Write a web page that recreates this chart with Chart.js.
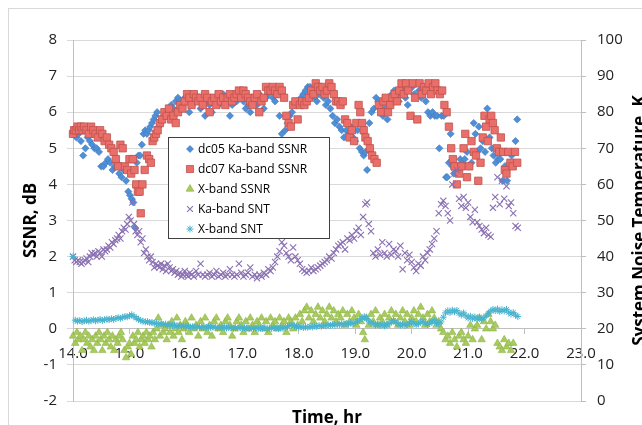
<!DOCTYPE html>
<html>
<head>
<meta charset="utf-8">
<script src="https://cdn.jsdelivr.net/npm/chart.js@4.4.1/dist/chart.umd.min.js"></script>
<style>
  html, body { margin: 0; padding: 0; background: #fff; }
  #wrap { width: 642px; height: 425px; }
</style>
</head>
<body>
<div id="wrap"><canvas id="canvas" width="642" height="425"></canvas></div>
<script>
// series names (legend order)
const seriesNames = ['dc05 Ka-band SSNR', 'dc07 Ka-band SSNR', 'X-band SSNR', 'Ka-band SNT', 'X-band SNT'];

// dc05 Ka-band SSNR, dB
const dc05Hours = [
  14.00,14.03,14.06,14.10,14.14,14.18,14.22,14.26,14.30,14.34,
  14.38,14.42,14.46,14.50,14.54,14.58,14.62,14.66,14.70,14.74,
  14.78,14.82,14.86,14.90,14.94,14.98,15.01,15.04,15.07,15.10,
  15.13,15.16,15.19,15.22,15.25,15.28,15.31,15.34,15.37,15.40,
  15.43,15.46,15.49,15.52,15.55,15.58,15.62,15.66,15.70,15.74,
  15.78,15.82,15.86,15.90,15.94,15.98,16.02,16.06,16.10,16.14,
  16.18,16.22,16.26,16.30,16.34,16.38,16.42,16.46,16.50,16.54,
  16.58,16.62,16.66,16.70,16.74,16.78,16.82,16.86,16.90,16.94,
  16.98,17.02,17.06,17.10,17.14,17.18,17.22,17.26,17.30,17.34,
  17.38,17.42,17.46,17.50,17.54,17.58,17.62,17.66,17.70,17.73,
  17.76,17.80,17.84,17.88,17.92,17.96,18.00,18.04,18.08,18.12,
  18.16,18.20,18.24,18.28,18.32,18.36,18.40,18.44,18.48,18.52,
  18.56,18.60,18.64,18.68,18.72,18.76,18.80,18.84,18.88,18.92,
  18.96,19.00,19.04,19.08,19.12,19.15,19.18,19.21,19.25,19.29,
  19.33,19.37,19.41,19.45,19.49,19.53,19.57,19.61,19.65,19.69,
  19.73,19.77,19.81,19.85,19.89,19.93,19.97,20.01,20.05,20.09,
  20.13,20.17,20.21,20.25,20.29,20.33,20.37,20.41,20.45,20.49,
  20.53,20.57,20.61,20.63,20.66,20.69,20.72,20.75,20.78,20.82,
  20.86,20.90,20.94,20.98,21.02,21.06,21.10,21.13,21.16,21.19,
  21.22,21.26,21.30,21.34,21.38,21.42,21.45,21.49,21.53,21.57,
  21.61,21.65,21.69,21.73,21.77,21.81,21.84,21.87
];
const dc05Ssnr = [
  5.4,5.5,5.3,5.4,5.2,4.8,5.0,5.3,5.2,5.1,
  5.0,5.0,4.9,4.5,4.5,4.6,4.7,4.6,4.4,4.5,
  4.6,4.3,4.2,4.4,4.1,3.8,3.7,3.6,3.5,2.8,
  4.6,4.8,4.8,5.1,5.4,5.5,5.4,5.5,5.6,5.7,
  5.8,5.9,6.0,5.6,5.7,5.8,5.9,6.0,6.1,6.2,
  6.1,6.3,6.4,6.3,6.2,6.4,6.3,6.0,6.2,6.3,
  6.4,6.3,6.1,6.2,5.9,6.3,6.2,6.0,6.3,6.4,
  6.2,6.3,6.5,6.4,6.3,5.9,6.2,6.4,6.3,6.5,
  6.4,6.3,6.1,6.2,6.0,6.3,6.4,6.2,6.5,6.3,
  6.1,6.4,6.5,6.6,6.4,6.3,6.5,5.9,5.4,5.2,
  5.5,5.7,5.9,6.0,6.2,6.3,6.2,6.4,6.5,6.6,
  6.7,6.7,6.5,6.4,6.3,6.5,6.6,6.4,6.2,6.3,
  6.1,5.9,5.7,5.8,5.6,5.5,5.3,5.5,5.4,5.6,
  5.3,5.2,5.5,5.0,4.9,4.8,4.9,4.4,5.7,6.0,
  6.1,6.4,6.3,6.2,5.9,6.1,5.8,6.3,6.5,6.6,
  6.4,6.3,6.5,6.6,6.4,6.2,6.8,6.7,6.5,6.8,
  6.6,6.4,6.7,6.3,6.0,5.9,6.0,5.9,5.9,5.0,
  5.9,5.9,4.2,4.2,4.6,5.4,4.5,4.3,4.0,4.4,
  4.7,4.6,4.7,4.9,4.5,4.6,5.7,5.4,4.9,5.6,
  5.0,5.2,4.9,6.1,5.3,5.0,4.8,4.6,4.7,4.7,
  4.1,4.5,4.1,4.6,4.8,4.9,5.2,5.8
];

// dc07 Ka-band SSNR, dB
const dc07Hours = [
  14.00,14.02,14.05,14.08,14.11,14.14,14.17,14.20,14.24,14.28,
  14.32,14.36,14.40,14.44,14.48,14.52,14.56,14.60,14.64,14.68,
  14.72,14.76,14.80,14.84,14.88,14.92,14.96,15.00,15.03,15.06,
  15.09,15.12,15.15,15.18,15.20,15.23,15.27,15.31,15.35,15.38,
  15.41,15.44,15.47,15.50,15.54,15.58,15.62,15.66,15.70,15.74,
  15.78,15.82,15.86,15.90,15.94,15.98,16.02,16.06,16.10,16.14,
  16.18,16.22,16.26,16.30,16.34,16.38,16.42,16.46,16.50,16.54,
  16.58,16.62,16.66,16.70,16.74,16.78,16.82,16.86,16.90,16.94,
  16.98,17.02,17.06,17.10,17.14,17.18,17.22,17.26,17.30,17.34,
  17.38,17.42,17.46,17.50,17.54,17.58,17.62,17.66,17.70,17.74,
  17.78,17.82,17.86,17.90,17.94,17.98,18.02,18.06,18.10,18.14,
  18.18,18.22,18.26,18.30,18.34,18.38,18.42,18.46,18.50,18.54,
  18.58,18.62,18.66,18.70,18.74,18.78,18.82,18.86,18.90,18.94,
  18.98,19.02,19.06,19.09,19.12,19.15,19.18,19.22,19.26,19.30,
  19.34,19.38,19.42,19.46,19.50,19.54,19.58,19.62,19.66,19.70,
  19.74,19.78,19.82,19.86,19.90,19.94,19.98,20.02,20.06,20.10,
  20.14,20.18,20.22,20.26,20.30,20.34,20.38,20.42,20.46,20.50,
  20.54,20.58,20.62,20.66,20.70,20.73,20.76,20.80,20.84,20.88,
  20.92,20.95,20.98,21.02,21.06,21.10,21.14,21.18,21.22,21.26,
  21.29,21.32,21.35,21.38,21.41,21.44,21.47,21.51,21.55,21.58,
  21.62,21.65,21.68,21.71,21.75,21.79,21.83,21.87
];
const dc07Ssnr = [
  5.4,5.5,5.5,5.6,5.5,5.6,5.5,5.6,5.5,5.4,
  5.6,5.5,5.4,5.3,5.5,5.4,5.2,5.3,5.1,5.0,
  4.9,4.7,4.5,5.1,5.0,4.5,4.4,4.7,4.3,4.7,
  4.4,4.0,3.8,3.8,3.2,4.0,4.4,4.8,4.7,4.6,
  5.2,5.3,5.4,5.5,5.7,5.8,6.0,5.9,6.1,5.8,
  5.9,5.7,6.0,6.2,6.1,6.3,6.5,6.4,6.2,6.5,
  6.4,6.3,6.4,6.2,6.5,6.4,6.0,6.3,6.4,6.2,
  6.5,6.3,6.4,6.2,6.4,6.5,6.3,6.4,6.5,6.6,
  6.4,6.6,6.5,6.4,6.3,6.2,6.4,6.5,6.0,6.3,
  6.4,6.7,6.6,6.6,6.7,6.6,6.5,6.7,6.6,6.4,
  5.9,5.7,5.6,6.2,6.3,5.8,6.2,6.3,6.2,6.3,
  6.4,6.6,6.5,6.8,6.7,6.6,6.7,6.5,6.6,6.8,
  6.7,6.5,6.3,6.3,6.2,6.3,5.8,5.7,5.3,5.5,
  5.2,5.7,6.2,6.0,5.7,5.5,5.3,5.2,5.0,4.8,
  4.7,4.6,6.2,6.0,6.3,6.4,6.0,6.2,6.4,6.5,
  6.3,6.6,6.8,6.5,6.8,6.6,5.9,6.8,6.4,5.8,
  6.8,6.5,6.7,6.6,6.8,6.5,6.7,6.8,6.6,6.5,
  6.6,6.2,6.0,5.6,5.0,4.7,4.5,4.0,4.3,4.5,
  5.0,5.4,4.2,4.5,5.2,4.9,4.8,4.1,4.6,5.3,
  5.9,5.6,5.2,5.8,5.9,5.7,5.5,5.0,4.9,5.3,
  4.9,4.4,4.3,4.9,4.6,4.5,4.9,4.6
];

// X-band SSNR, dB
const xSsnrHours = [
  14.00,14.04,14.07,14.10,14.13,14.16,14.19,14.22,14.25,14.28,
  14.31,14.34,14.37,14.40,14.43,14.46,14.49,14.52,14.55,14.58,
  14.61,14.64,14.67,14.70,14.73,14.76,14.79,14.82,14.85,14.88,
  14.91,14.94,14.97,15.00,15.03,15.06,15.09,15.12,15.15,15.18,
  15.21,15.24,15.27,15.30,15.33,15.36,15.39,15.42,15.45,15.48,
  15.51,15.54,15.57,15.60,15.63,15.66,15.69,15.72,15.75,15.78,
  15.81,15.84,15.87,15.90,15.93,15.96,15.99,16.02,16.06,16.10,
  16.14,16.18,16.22,16.26,16.30,16.34,16.38,16.42,16.46,16.50,
  16.54,16.58,16.62,16.66,16.70,16.74,16.78,16.82,16.86,16.90,
  16.94,16.98,17.02,17.06,17.10,17.14,17.18,17.22,17.26,17.30,
  17.34,17.38,17.42,17.46,17.50,17.54,17.58,17.62,17.66,17.70,
  17.74,17.78,17.82,17.86,17.90,17.94,17.98,18.02,18.06,18.10,
  18.14,18.18,18.22,18.26,18.30,18.34,18.38,18.42,18.46,18.50,
  18.54,18.58,18.62,18.66,18.70,18.74,18.78,18.82,18.86,18.90,
  18.94,18.98,19.02,19.06,19.10,19.14,19.17,19.20,19.24,19.28,
  19.32,19.36,19.40,19.44,19.48,19.52,19.56,19.60,19.64,19.68,
  19.72,19.76,19.80,19.84,19.88,19.92,19.96,20.00,20.04,20.08,
  20.12,20.16,20.20,20.24,20.28,20.32,20.36,20.40,20.44,20.48,
  20.52,20.56,20.60,20.64,20.68,20.72,20.76,20.80,20.84,20.88,
  20.92,20.96,21.00,21.04,21.08,21.12,21.16,21.20,21.24,21.28,
  21.32,21.36,21.40,21.44,21.48,21.52,21.56,21.60,21.64,21.68,
  21.72,21.76,21.80
];
const xSsnr = [
  -0.2,-0.4,-0.1,-0.3,-0.2,-0.6,-0.3,-0.1,-0.4,-0.2,
  -0.5,-0.3,-0.6,-0.2,-0.4,-0.1,-0.3,-0.6,-0.2,-0.4,
  -0.1,-0.3,-0.5,-0.2,-0.6,-0.3,-0.4,-0.2,-0.1,-0.3,
  -0.6,-0.8,-0.5,-0.4,-0.7,-0.2,-0.4,-0.3,-0.1,-0.5,
  -0.3,-0.2,-0.4,-0.1,-0.3,-0.2,-0.5,-0.1,-0.3,0.0,
  0.3,-0.2,0.1,-0.1,0.0,-0.3,0.1,-0.1,0.2,-0.2,
  0.0,0.3,-0.1,0.1,-0.3,0.0,0.2,0.1,-0.1,0.3,
  0.0,0.1,-0.2,0.2,0.0,0.3,-0.1,0.1,-0.2,0.2,
  0.3,0.0,0.1,-0.1,0.2,0.3,0.1,-0.2,0.0,0.2,
  0.3,0.1,-0.1,0.2,0.0,0.3,0.1,-0.1,0.2,0.1,
  0.3,0.0,0.2,-0.1,0.3,0.1,0.2,0.0,0.3,0.1,
  0.2,-0.1,0.3,0.2,0.0,0.3,0.1,0.4,0.2,0.5,
  0.6,0.3,0.5,0.2,0.4,0.6,0.3,0.5,0.2,0.4,
  0.6,0.3,0.5,0.2,0.4,0.3,0.5,0.1,0.4,0.2,
  0.5,0.3,0.1,0.4,0.2,-0.1,-0.3,0.3,0.1,0.4,
  0.2,0.5,0.1,0.3,0.2,0.4,0.1,0.3,0.5,0.2,
  0.4,0.1,0.3,0.5,0.2,0.4,0.1,0.3,0.5,0.2,
  0.4,0.6,0.3,0.1,0.4,0.2,0.5,0.3,0.1,0.2,
  0.0,-0.1,-0.3,-0.2,-0.4,-0.1,-0.3,-0.5,-0.2,-0.1,
  -0.3,-0.4,-0.2,0.1,-0.3,0.0,0.1,0.3,-0.3,0.2,
  0.0,0.4,0.2,0.0,0.1,-0.4,-0.5,-0.6,-0.3,-0.5,
  -0.4,-0.6,-0.4
];

// Ka-band system noise temperature, K
const kaSntHours = [
  14.00,14.03,14.06,14.09,14.12,14.15,14.18,14.21,14.24,14.27,
  14.30,14.33,14.36,14.39,14.42,14.45,14.48,14.51,14.54,14.57,
  14.60,14.63,14.66,14.69,14.72,14.75,14.78,14.81,14.84,14.87,
  14.90,14.93,14.96,14.99,15.02,15.05,15.08,15.11,15.14,15.17,
  15.20,15.23,15.26,15.29,15.32,15.35,15.38,15.41,15.44,15.47,
  15.50,15.53,15.56,15.59,15.62,15.65,15.68,15.71,15.74,15.77,
  15.80,15.83,15.86,15.89,15.92,15.95,15.98,16.01,16.04,16.07,
  16.10,16.14,16.18,16.22,16.26,16.30,16.34,16.38,16.42,16.46,
  16.50,16.54,16.58,16.62,16.66,16.70,16.74,16.78,16.82,16.86,
  16.90,16.94,16.98,17.02,17.06,17.10,17.14,17.18,17.22,17.26,
  17.30,17.34,17.38,17.42,17.46,17.50,17.54,17.58,17.62,17.66,
  17.70,17.74,17.78,17.82,17.86,17.90,17.94,17.98,18.02,18.06,
  18.10,18.14,18.18,18.22,18.26,18.30,18.34,18.38,18.42,18.46,
  18.50,18.54,18.58,18.62,18.66,18.70,18.74,18.78,18.82,18.86,
  18.90,18.94,18.98,19.02,19.06,19.10,19.14,19.18,19.21,19.24,
  19.28,19.32,19.36,19.40,19.44,19.48,19.52,19.56,19.60,19.64,
  19.68,19.72,19.76,19.80,19.84,19.88,19.92,19.96,20.00,20.04,
  20.08,20.12,20.16,20.20,20.24,20.28,20.32,20.36,20.40,20.44,
  20.48,20.52,20.56,20.60,20.64,20.68,20.72,20.76,20.80,20.84,
  20.88,20.92,20.96,21.00,21.04,21.08,21.12,21.16,21.20,21.24,
  21.28,21.32,21.36,21.40,21.44,21.48,21.52,21.56,21.60,21.64,
  21.68,21.72,21.76,21.80,21.84,21.88
];
const kaSnt = [
  40,39,38.5,39,38.5,38,38.5,39,39.5,38.5,
  40,41,40.5,41,40,41.5,41,40,42,41.5,
  42,43,42.5,44,43.5,44.5,45,46,45,47,
  48,47.5,49,51,50,55,49,47,46,47,
  44,45,41,42,40,39,40,38.5,37,38,
  37.5,37,38,36.5,37.5,36,38,37,36,36.5,
  35.5,36,35,35.5,34.5,35,36,35,34.5,35.5,
  35,34.5,36,35,38,35,34.5,35,35.5,34.5,
  35,36,34.5,35,35.5,34.5,35,36.5,35,34.5,
  35,38,35.5,34.5,35,35.5,37,34.5,35,34,
  35,34.5,35.5,35,36.5,36,37,38.5,40,41.5,
  44,43,41,40,39,42.5,40,39,38,36.5,
  36,35.5,36,37,36,36.5,37,37.5,38,38.5,
  39,40,39.5,41,42,43,43.5,44,42,45,
  44.5,46,45,47,48,46,51,54.5,55,49,
  47,41,40,42,40.5,44,41,40,43.5,40.5,
  42,41.5,40,43,36.5,41,39,40.5,38.5,37,
  36,38,37.5,40,39,41,42,43.5,45,47,
  52,54.5,55.5,54,52,50,60,63,64,56,
  54,56.5,53.5,55,51,49.5,53,49.5,48.5,47.5,
  46.5,48,46,45.5,53.5,56.5,62,54.5,61,56,
  59.5,54,55,52,48.5,48
];

// X-band system noise temperature, K
const xSntHours = [
  14.00,14.04,14.08,14.12,14.16,14.20,14.24,14.28,14.32,14.36,
  14.40,14.44,14.48,14.52,14.56,14.60,14.64,14.68,14.72,14.76,
  14.80,14.84,14.88,14.92,14.96,15.00,15.04,15.08,15.12,15.16,
  15.20,15.24,15.28,15.32,15.36,15.40,15.44,15.48,15.52,15.56,
  15.60,15.64,15.68,15.72,15.76,15.80,15.84,15.88,15.92,15.96,
  16.00,16.04,16.08,16.12,16.16,16.20,16.24,16.28,16.32,16.36,
  16.40,16.44,16.48,16.52,16.56,16.60,16.64,16.68,16.72,16.76,
  16.80,16.84,16.88,16.92,16.96,17.00,17.04,17.08,17.12,17.16,
  17.20,17.24,17.28,17.32,17.36,17.40,17.44,17.48,17.52,17.56,
  17.60,17.64,17.68,17.72,17.76,17.80,17.84,17.88,17.92,17.96,
  18.00,18.04,18.08,18.12,18.16,18.20,18.24,18.28,18.32,18.36,
  18.40,18.44,18.48,18.52,18.56,18.60,18.64,18.68,18.72,18.76,
  18.80,18.84,18.88,18.92,18.96,19.00,19.04,19.08,19.12,19.16,
  19.20,19.24,19.28,19.32,19.36,19.40,19.44,19.48,19.52,19.56,
  19.60,19.64,19.68,19.72,19.76,19.80,19.84,19.88,19.92,19.96,
  20.00,20.04,20.08,20.12,20.16,20.20,20.24,20.28,20.32,20.36,
  20.40,20.44,20.48,20.52,20.56,20.60,20.64,20.68,20.72,20.76,
  20.80,20.84,20.88,20.92,20.96,21.00,21.04,21.08,21.12,21.16,
  21.20,21.24,21.28,21.32,21.36,21.40,21.44,21.48,21.52,21.56,
  21.60,21.64,21.68,21.72,21.76,21.80,21.84,21.88
];
const xSnt = [
  40,22.4,22.1,22.3,22.0,22.2,22.4,22.1,22.3,22.5,
  22.2,22.4,22.6,22.3,22.5,22.7,22.5,22.8,22.6,22.9,
  23.1,22.9,23.2,23.4,23.3,23.6,23.9,23.4,23.0,22.6,
  22.3,22.1,21.9,22.0,21.7,21.8,21.5,21.6,21.3,21.4,
  21.2,21.3,21.0,21.1,20.9,21.0,20.8,20.9,20.7,20.8,
  20.6,20.7,20.5,20.6,20.4,20.6,20.5,20.3,20.5,20.4,
  20.6,20.3,20.5,20.4,20.2,20.4,20.3,20.5,20.2,20.4,
  20.3,20.1,20.3,20.2,20.4,20.1,20.3,20.2,20.0,20.2,
  20.1,20.3,20.0,20.2,20.1,20.3,20.0,20.2,20.1,20.3,
  20.2,20.0,20.3,20.1,20.4,20.6,20.9,21.1,20.8,20.6,
  20.4,20.6,20.3,20.5,20.4,20.7,20.5,20.8,20.6,20.9,
  20.7,21.0,20.8,21.1,20.9,21.2,21.0,21.3,21.1,21.4,
  21.2,21.5,21.3,21.6,21.4,21.8,22.1,22.5,23.0,23.4,
  22.8,22.2,21.7,21.4,21.0,21.3,20.9,21.2,20.8,21.1,
  21.5,21.9,22.3,21.8,21.4,21.0,21.3,20.9,21.2,21.6,
  22.0,21.5,21.1,21.4,21.8,22.1,21.6,21.2,21.5,21.9,
  22.3,21.7,21.3,21.9,23.2,24.4,25.0,24.5,25.2,24.7,
  25.1,24.3,23.8,24.4,23.6,23.0,23.5,22.8,23.3,22.7,
  23.2,22.6,23.1,23.6,24.3,24.9,25.4,25.0,25.5,24.8,
  25.3,24.9,25.4,24.6,24.1,24.5,23.8,23.4
];

function toPoints(xs, ys) {
  return xs.map((x, i) => ({ x: x, y: ys[i] }));
}

Chart.defaults.font.family = '"Open Sans", sans-serif';
Chart.defaults.color = '#222';

// legend marker radius for each series
const legendRadius = [3.5, 5, 4.5, 4.2, 3.5];

const decorations = {
  id: 'decorations',
  beforeDraw(chart) {
    const c = chart.ctx;
    c.save();
    c.fillStyle = '#fff';
    c.fillRect(0, 0, chart.width, chart.height);
    c.strokeStyle = '#D9D9D9';
    c.lineWidth = 1;
    c.strokeRect(8.5, 8.5, chart.width + 10, chart.height + 10);
    c.restore();
  },
  afterDraw(chart) {
    const c = chart.ctx;
    const area = chart.chartArea;
    const midY = (area.top + area.bottom) / 2;
    c.save();
    c.fillStyle = '#000';
    c.font = 'bold 17px "Open Sans"';
    c.textAlign = 'center';

    // left title
    c.save();
    c.translate(36, midY);
    c.rotate(-Math.PI / 2);
    c.textBaseline = 'alphabetic';
    c.fillText('SSNR, dB', 0, 0);
    c.restore();

    // right title (reads bottom to top, cut by the edge)
    c.save();
    c.translate(645, midY);
    c.rotate(-Math.PI / 2);
    c.textBaseline = 'alphabetic';
    c.fillText('System Noise Temperature, K', 0, 0);
    c.restore();

    // bottom title
    c.textBaseline = 'alphabetic';
    c.fillText('Time, hr', (area.left + area.right) / 2, 423);

    // legend box
    const lx = 168, ly = 137, lw = 161, lh = 101;
    c.fillStyle = '#fff';
    c.fillRect(lx, ly, lw, lh);
    c.strokeStyle = '#404040';
    c.lineWidth = 1;
    c.strokeRect(lx + 0.5, ly + 0.5, lw, lh);
    chart.data.datasets.forEach((ds, i) => {
      const y = 149 + i * 20;
      c.fillStyle = ds.backgroundColor;
      c.strokeStyle = ds.borderColor;
      c.lineWidth = ds.borderWidth;
      Chart.helpers.drawPoint(c, {
        pointStyle: ds.pointStyle, radius: legendRadius[i], rotation: 0, borderWidth: ds.borderWidth
      }, 190, y);
      c.fillStyle = '#000';
      c.font = '12px "Open Sans"';
      c.textAlign = 'left';
      c.textBaseline = 'middle';
      c.fillText(ds.label, 198, y + 1);
    });
    c.restore();
  }
};

new Chart(document.getElementById('canvas'), {
  type: 'scatter',
  data: {
    datasets: [{
      label: seriesNames[0],
      data: toPoints(dc05Hours, dc05Ssnr),
      yAxisID: 'y',
      pointStyle: 'rectRot',
      pointRadius: 3.6,
      backgroundColor: '#4F8FD8',
      borderColor: '#3F78BC',
      borderWidth: 0.6,
      order: 5,
      clip: false
    }, {
      label: seriesNames[1],
      data: toPoints(dc07Hours, dc07Ssnr),
      yAxisID: 'y',
      pointStyle: 'rect',
      pointRadius: 5.2,
      backgroundColor: '#EA6F6A',
      borderColor: '#C0504D',
      borderWidth: 0.8,
      order: 4,
      clip: false
    }, {
      label: seriesNames[2],
      data: toPoints(xSsnrHours, xSsnr),
      yAxisID: 'y',
      pointStyle: 'triangle',
      pointRadius: 4.3,
      backgroundColor: '#A7CB5C',
      borderColor: '#8EB248',
      borderWidth: 0.6,
      order: 3,
      clip: false
    }, {
      label: seriesNames[3],
      data: toPoints(kaSntHours, kaSnt),
      yAxisID: 'y2',
      pointStyle: 'crossRot',
      pointRadius: 4.4,
      backgroundColor: '#8A70B2',
      borderColor: '#8A70B2',
      borderWidth: 1.1,
      order: 2,
      clip: false
    }, {
      label: seriesNames[4],
      data: toPoints(xSntHours, xSnt),
      yAxisID: 'y2',
      pointStyle: 'star',
      pointRadius: 3.4,
      backgroundColor: '#47B3CE',
      borderColor: '#47B3CE',
      borderWidth: 1,
      order: 1,
      clip: false
    }]
  },
  options: {
    responsive: false,
    animation: false,
    devicePixelRatio: 1,
    events: [],
    layout: { padding: { top: 40, bottom: 24, left: 0, right: 0 } },
    plugins: {
      legend: { display: false },
      tooltip: { enabled: false }
    },
    scales: {
      x: {
        type: 'linear',
        position: { y: 0 },
        min: 14, max: 23,
        ticks: {
          stepSize: 1,
          autoSkip: false,
          maxRotation: 0,
          padding: 11,
          font: { size: 15 },
          color: '#222',
          callback: v => v.toFixed(1)
        },
        grid: { drawOnChartArea: false, drawTicks: true, tickLength: 5, color: '#BFBFBF' },
        border: { display: true, color: '#BFBFBF' }
      },
      y: {
        position: 'left',
        min: -2, max: 8,
        ticks: { stepSize: 1, padding: 10, font: { size: 15 }, color: '#222' },
        grid: { color: '#D9D9D9', tickLength: 6 },
        border: { color: '#BFBFBF' },
        afterFit: s => { s.width = 73; }
      },
      y2: {
        position: 'right',
        min: 0, max: 100,
        ticks: { stepSize: 10, padding: 11, font: { size: 15 }, color: '#222' },
        grid: { drawOnChartArea: false, tickLength: 5, color: '#BFBFBF' },
        border: { color: '#BFBFBF' },
        afterFit: s => { s.width = 61; }
      }
    }
  },
  plugins: [decorations]
});
</script>
</body>
</html>
